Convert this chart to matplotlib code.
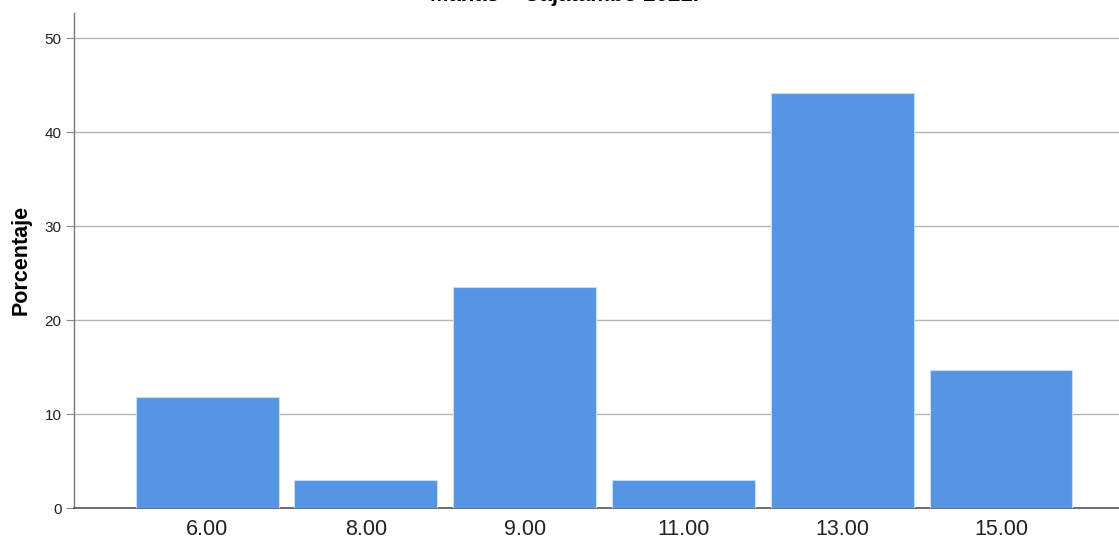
import matplotlib
matplotlib.use("Agg")
import matplotlib.pyplot as plt

categories = ["6.00", "8.00", "9.00", "11.00", "13.00", "15.00"]
percentages = [11.76, 2.94, 23.53, 2.94, 44.12, 14.71]
y_ticks = [0, 10, 20, 30, 40, 50]
title = "Mañas – Cajatambo 2021."

plt.rcParams['font.family'] = ['Liberation Sans', 'DejaVu Sans']

W, H = 1119, 541
fig = plt.figure(figsize=(W / 100, H / 100), dpi=100)
ax = fig.add_axes([74 / W, 1 - 508 / H, (W - 74) / W, (508 - 13) / H])

x = list(range(len(categories)))
ax.bar(x, percentages, width=0.9, color="#5595e4", edgecolor="#c8dcf6",
       linewidth=0.8, zorder=3)

ax.set_xlim(-0.838, 5.743)
ax.set_ylim(0, (508 - 13) / 9.4)
ax.set_yticks(y_ticks)
ax.set_yticklabels([str(v) for v in y_ticks], fontsize=11, color="#222222")
ax.set_xticks(x)
ax.set_xticklabels(categories, fontsize=15.5, color="#222222")
ax.yaxis.grid(True, color="#b4b4b4", linewidth=1.0, zorder=0)
ax.tick_params(axis="y", length=6, width=0.8, color="#888888", pad=3)
ax.tick_params(axis="x", length=0, pad=8)

for s in ["top", "right"]:
    ax.spines[s].set_visible(False)
ax.spines["left"].set_color("#777777")
ax.spines["left"].set_linewidth(1.0)
ax.spines["bottom"].set_color("#555555")
ax.spines["bottom"].set_linewidth(1.2)

ax.set_ylabel("Porcentaje", fontsize=15.5, fontweight="bold")
ax.yaxis.set_label_coords(-42 / (W - 74), (508 - 260) / (508 - 13))

fig.text(565 / W, 1 - 6 / H, title, ha="center", va="bottom",
         fontsize=16, fontweight="bold")

fig.savefig("out.png", dpi=100)
